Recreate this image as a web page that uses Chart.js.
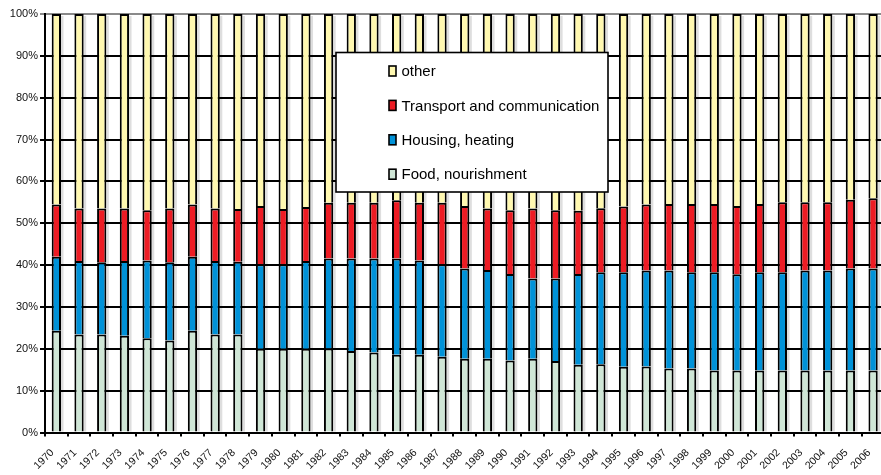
<!DOCTYPE html>
<html>
<head>
<meta charset="utf-8">
<script src="https://cdn.jsdelivr.net/npm/chart.js@4.4.1/dist/chart.umd.min.js"></script>
<style>
html,body{margin:0;padding:0;background:#fff;overflow:hidden;width:881px;height:475px}
#wrap{width:881px;height:475px;overflow:hidden;position:relative}
canvas{display:block}
</style>
</head>
<body>
<div id="wrap"><canvas id="c" width="892" height="475"></canvas></div>
<script>
const years = ['1970','1971','1972','1973','1974','1975','1976','1977','1978','1979','1980','1981','1982','1983','1984','1985','1986','1987','1988','1989','1990','1991','1992','1993','1994','1995','1996','1997','1998','1999','2000','2001','2002','2003','2004','2005','2006'];
const food      = [24.3,23.4,23.4,23.1,22.5,22.0,24.3,23.4,23.4,20.0,20.0,20.0,20.1,19.5,19.1,18.6,18.6,18.1,17.6,17.6,17.2,17.6,17.1,16.2,16.3,15.7,15.8,15.3,15.3,14.8,14.8,14.8,14.8,14.8,14.8,14.8,14.8];
const housing   = [17.7,17.6,17.3,17.9,18.6,18.7,17.7,17.6,17.4,20.2,20.2,21.0,21.5,22.1,22.5,23.0,22.5,22.1,21.6,21.2,20.7,19.2,19.7,21.7,22.0,22.6,22.9,23.4,23.0,23.5,23.0,23.5,23.5,23.9,23.9,24.4,24.4];
const transport = [12.5,12.5,12.8,12.5,12.0,12.8,12.5,12.5,12.6,13.9,13.2,12.9,13.3,13.3,13.3,13.9,13.8,14.7,14.9,14.7,15.2,16.7,16.3,15.1,15.3,15.7,15.8,15.9,16.3,16.3,16.3,16.3,16.7,16.3,16.3,16.4,16.8];
const other     = [45.5,46.5,46.5,46.5,46.9,46.5,45.5,46.5,46.6,45.9,46.6,46.1,45.1,45.1,45.1,44.5,45.1,45.1,45.9,46.5,46.9,46.5,46.9,47.0,46.4,46.0,45.5,45.4,45.4,45.4,45.9,45.4,45.0,45.0,45.0,44.4,44.0];
const yTicks = [0,10,20,30,40,50,60,70,80,90,100];

const boxLegend = {
  id: 'boxLegend',
  afterDraw(chart) {
    const ctx = chart.ctx;
    const x0 = 336, y0 = 52.5, w = 272, h = 139.5;
    ctx.save();
    ctx.fillStyle = '#fff';
    ctx.fillRect(x0, y0, w, h);
    ctx.lineWidth = 1.6;
    ctx.strokeStyle = '#000';
    ctx.strokeRect(x0, y0, w, h);
    const ds = chart.data.datasets.slice().reverse();
    ctx.font = '15px "Liberation Sans", Arial, sans-serif';
    ctx.textBaseline = 'middle';
    ctx.textAlign = 'left';
    ds.forEach((d, i) => {
      const y = 71 + i * 34.4;
      ctx.fillStyle = d.backgroundColor;
      ctx.fillRect(389, y - 5, 7, 10);
      ctx.lineWidth = 1.6;
      ctx.strokeStyle = '#000';
      ctx.strokeRect(389, y - 5, 7, 10);
      ctx.fillStyle = '#000';
      ctx.fillText(d.label, 401.5, y + 1);
    });
    ctx.restore();
  }
};

const barShadow = {
  id: 'barShadow',
  beforeDatasetsDraw(chart) {
    const ctx = chart.ctx;
    const n = chart.data.datasets.length;
    const topEls = chart.getDatasetMeta(n - 1).data;
    const botEls = chart.getDatasetMeta(0).data;
    ctx.save();
    ctx.fillStyle = 'rgba(0,0,0,0.13)';
    topEls.forEach((el, i) => {
      const b = botEls[i];
      const right = el.x + el.width / 2;
      ctx.fillRect(right, el.y + 2, 2.5, b.base - el.y - 2);
    });
    ctx.restore();
  }
};

const mk = (label, data, color) => ({
  label, data, backgroundColor: color, borderColor: '#000', borderWidth: 2,
  barPercentage: 0.41, categoryPercentage: 1.0
});

new Chart(document.getElementById('c'), {
  type: 'bar',
  data: {
    labels: years,
    datasets: [
      mk('Food, nourishment', food, '#cfe6d6'),
      mk('Housing, heating', housing, '#0092d8'),
      mk('Transport and communication', transport, '#ed1c24'),
      mk('other', other, '#fff8b0')
    ]
  },
  options: {
    responsive: false,
    animation: false,
    layout: { padding: { top: 14, left: 0, right: 0, bottom: 0 } },
    plugins: { legend: { display: false }, tooltip: { enabled: false } },
    scales: {
      x: {
        stacked: true,
        offset: true,
        afterFit(s) { s.height = 42.5; },
        grid: { display: true, drawOnChartArea: false, offset: true, color: '#000', lineWidth: 2, tickLength: 4 },
        border: { display: true, color: '#000', width: 2 },
        ticks: {
          autoSkip: false, minRotation: 45, maxRotation: 45, padding: 10, labelOffset: -4,
          color: '#111', font: { family: '"Liberation Sans", Arial, sans-serif', size: 10.5 }
        }
      },
      y: {
        stacked: true,
        min: 0, max: 100,
        afterFit(s) { s.width = 45; },
        afterBuildTicks(s) { s.ticks = yTicks.map(v => ({ value: v })); },
        grid: {
          color: (c) => (c.tick && c.tick.value === 100) ? '#8a8a8a' : '#000',
          lineWidth: 2, tickLength: 5
        },
        border: { display: true, color: '#000', width: 2 },
        ticks: {
          padding: 2, color: '#111',
          font: { family: '"Liberation Sans", Arial, sans-serif', size: 11 },
          callback: (v) => v + '%'
        }
      }
    }
  },
  plugins: [barShadow, boxLegend]
});
</script>
</body>
</html>
